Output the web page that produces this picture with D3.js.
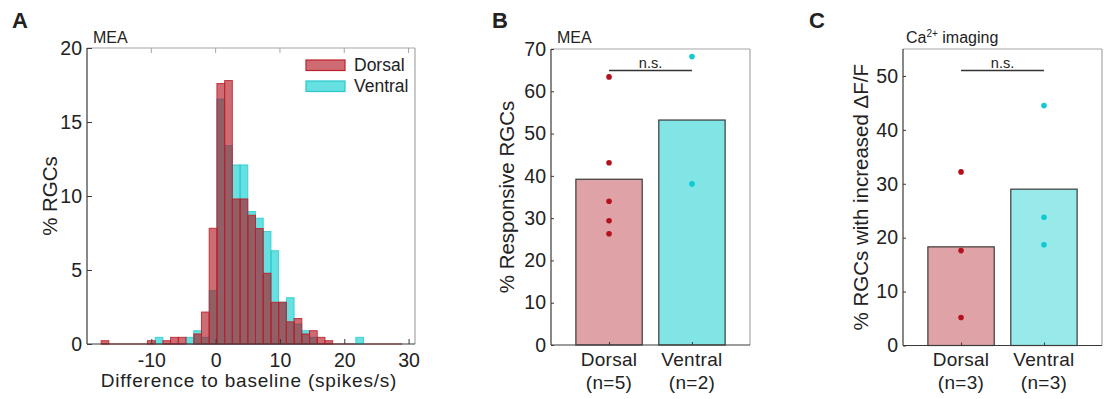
<!DOCTYPE html>
<html><head><meta charset="utf-8">
<script src="https://cdn.jsdelivr.net/npm/d3@7"></script>
<style>
body{margin:0;background:#fff;}
text{font-family:"Liberation Sans",Arial,Helvetica,sans-serif;fill:#222;}
</style></head><body>
<svg id="c" width="1106" height="399"></svg>
<script>
// ---------- DATA ----------
// Panel A histogram (bin width 1.2 spikes/s), left bin edges and % of RGCs
const binWidth = 1.2;
const dorsalBinLeft = [-17.8,-10.6,-8.2,-7.0,-5.8,-3.4,-2.2,-1.0,0.2,1.4,2.6,3.8,5.0,6.2,7.4,8.6,9.8,11.0,12.2,13.4,14.6,15.8,17.0];
const dorsalPct     = [0.225,0.225,0.225,0.45,0.45,0.68,2.16,7.82,17.6,17.8,9.8,9.8,8.7,7.8,4.78,2.82,2.82,1.5,1.72,0.68,0.9,0.45,0.225];
const ventralBinLeft = [-9.4,-4.6,-3.4,-2.2,-1.0,0.2,1.4,2.6,3.8,5.0,6.2,7.4,8.6,9.8,11.0,12.2,13.4,14.6,21.8];
const ventralPct     = [0.45,0.45,0.9,0.45,3.6,16.55,13.4,12.1,12.1,8.95,8.5,7.6,6.3,2.82,3.13,1.35,0.9,0.45,0.45];
const dorsalRange = [-17.8, 29.0];
const ventralRange = [-9.4, 23.0];
const histXTicks = [-10,0,10,20,30];
const histYTicks = [0,5,10,15,20];
const legendLabels = ["Dorsal","Ventral"];

// Panel B (MEA)
const groups = ["Dorsal","Ventral"];
const meaN = ["(n=5)","(n=2)"];
const meaMeans = [39.2, 53.2];
const meaDorsalPts = [63.4, 43.1, 34.0, 29.4, 26.3];
const meaVentralPts = [68.2, 38.1];
const meaYTicks = [0,10,20,30,40,50,60,70];
const meaSig = {y: 64.9, label: "n.s."};

// Panel C (Ca2+ imaging)
const caN = ["(n=3)","(n=3)"];
const caMeans = [18.3, 29.0];
const caDorsalPts = [32.2, 17.6, 5.2];
const caVentralPts = [44.5, 23.8, 18.7];
const caYTicks = [0,10,20,30,40,50];
const caSig = {y: 51.0, label: "n.s."};

// ---------- STYLE ----------
const red = "rgb(175,8,22)", cyan = "rgb(0,203,203)";
const axisCol = "#3a3a3a", boxCol = "#a6a6a6";
const tickFont = "19.5px", labFont = "20.5px";
const svg = d3.select("#c");

function frame(g, x0, x1, y0, y1){
  g.append("line").attr("x1",x0).attr("x2",x1).attr("y1",y0).attr("y2",y0).attr("stroke",boxCol).attr("stroke-width",1.2);
  g.append("line").attr("x1",x1).attr("x2",x1).attr("y1",y0).attr("y2",y1).attr("stroke",boxCol).attr("stroke-width",1.2);
}

// ---------- PANEL A ----------
(function(){
  const L=87,R=415,T=48,B=344;
  const x = d3.scaleLinear().domain([-20,31]).range([L,R]);
  const y = d3.scaleLinear().domain([0,20]).range([B,T]);
  const g = svg.append("g");
  frame(g,L,R,T,B);
  g.append("line").attr("x1",x(ventralRange[0])).attr("x2",x(ventralRange[1])).attr("y1",y(0)).attr("y2",y(0)).attr("stroke",cyan).attr("stroke-opacity",0.6).attr("stroke-width",1.5);
  g.append("line").attr("x1",x(dorsalRange[0])).attr("x2",x(dorsalRange[1])).attr("y1",y(0)).attr("y2",y(0)).attr("stroke","#d0606a").attr("stroke-width",1.5);
  const vd = ventralBinLeft.map((b,i)=>({b, v: ventralPct[i]}));
  const dd = dorsalBinLeft.map((b,i)=>({b, v: dorsalPct[i]}));
  g.selectAll(".vb").data(vd).enter().append("rect")
    .attr("x",d=>x(d.b)).attr("width",d=>x(d.b+binWidth)-x(d.b))
    .attr("y",d=>y(d.v)).attr("height",d=>y(0)-y(d.v))
    .attr("fill",cyan).attr("fill-opacity",0.6)
    .attr("stroke","rgb(40,200,205)").attr("stroke-opacity",0.8).attr("stroke-width",1);
  g.selectAll(".db").data(dd).enter().append("rect")
    .attr("x",d=>x(d.b)).attr("width",d=>x(d.b+binWidth)-x(d.b))
    .attr("y",d=>y(d.v)).attr("height",d=>y(0)-y(d.v))
    .attr("fill",red).attr("fill-opacity",0.6)
    .attr("stroke","rgb(190,30,40)").attr("stroke-opacity",0.85).attr("stroke-width",1);
  const ax = g.append("g").attr("transform",`translate(0,${B})`)
    .call(d3.axisBottom(x).tickValues(histXTicks).tickSizeInner(-5).tickSizeOuter(0).tickPadding(9).tickFormat(d=>String(d)));
  const ay = g.append("g").attr("transform",`translate(${L},0)`)
    .call(d3.axisLeft(y).tickValues(histYTicks).tickSizeInner(-5).tickSizeOuter(0).tickPadding(5));
  [ax,ay].forEach(a=>{a.select(".domain").attr("stroke",axisCol).attr("stroke-width",1.2);
    a.selectAll(".tick line").attr("stroke",axisCol);
    a.selectAll("text").style("font-size",tickFont).attr("fill","#222");});
  ax.select(".domain").attr("d",`M${L},0H${R}`);
  ay.select(".domain").attr("d",`M0,${B}V${T}`);
  g.selectAll(".tt").data(histXTicks).enter().append("line").attr("x1",d=>x(d)).attr("x2",d=>x(d)).attr("y1",T).attr("y2",T+5).attr("stroke",boxCol);
  g.append("text").attr("x",249).attr("y",387).attr("text-anchor","middle").style("font-size","19px").style("letter-spacing","0.8px").text("Difference to baseline (spikes/s)");
  g.append("text").attr("transform",`translate(57,${(T+B)/2}) rotate(-90)`).attr("text-anchor","middle").style("font-size",labFont).text("% RGCs");
  g.append("text").attr("x",93).attr("y",43).style("font-size","16px").text("MEA");
  g.append("text").attr("x",12).attr("y",28).style("font-size","22px").style("font-weight","bold").text("A");
  const lg = g.append("g");
  const lcols=[red,cyan], lstroke=["rgb(190,30,40)","rgb(40,200,205)"];
  legendLabels.forEach((t,i)=>{
    lg.append("rect").attr("x",306).attr("y",60+i*21).attr("width",39).attr("height",10.5)
      .attr("fill",lcols[i]).attr("fill-opacity",0.6).attr("stroke",lstroke[i]).attr("stroke-width",1.2);
    lg.append("text").attr("x",354).attr("y",71+i*21).style("font-size","17.5px").text(t);
  });
})();

// ---------- BAR PANELS ----------
function barPanel(o){
  const {L,R,T,B,ymax,means,pts,nLabels,yTicks,sig,title,ylab,letter,letterX,ventralFill,ylabX} = o;
  const x = d3.scaleLinear().domain([0.3,2.7]).range([L,R]);
  const y = d3.scaleLinear().domain([0,ymax]).range([B,T]);
  const g = svg.append("g");
  frame(g,L,R,T,B);
  const fills = ["#dfa3a7", ventralFill];
  g.selectAll(".bar").data(means).enter().append("rect")
    .attr("x",(d,i)=>x(i+1-0.4)).attr("width",x(1.4)-x(0.6))
    .attr("y",d=>y(d)).attr("height",d=>y(0)-y(d))
    .attr("fill",(d,i)=>fills[i]).attr("stroke","#3a3a3a").attr("stroke-width",1.2);
  const ptCols = ["#b3111c","#10c9d1"];
  pts.forEach((arr,i)=>{
    g.selectAll(".p"+i).data(arr).enter().append("circle")
      .attr("cx",x(i+1)).attr("cy",d=>y(d)).attr("r",2.8).attr("fill",ptCols[i]);
  });
  const ax = g.append("g").attr("transform",`translate(0,${B})`)
    .call(d3.axisBottom(x).tickValues([1,2]).tickSizeInner(-3).tickSizeOuter(0).tickFormat(""));
  const ay = g.append("g").attr("transform",`translate(${L},0)`)
    .call(d3.axisLeft(y).tickValues(yTicks).tickSizeInner(-3).tickSizeOuter(0).tickPadding(5));
  [ax,ay].forEach(a=>{a.select(".domain").attr("stroke",axisCol).attr("stroke-width",1.2);
    a.selectAll(".tick line").attr("stroke",axisCol);
    a.selectAll("text").style("font-size",tickFont).attr("fill","#222");});
  ax.select(".domain").attr("d",`M${L},0H${R}`);
  ay.select(".domain").attr("d",`M0,${B}V${T}`);
  groups.forEach((gname,i)=>{
    g.append("text").attr("x",x(i+1)).attr("y",366).attr("text-anchor","middle").style("font-size","19px").style("letter-spacing","0.3px").text(gname);
    g.append("text").attr("x",x(i+1)).attr("y",389).attr("text-anchor","middle").style("font-size","19px").style("letter-spacing","0.3px").text(nLabels[i]);
  });
  g.append("line").attr("x1",x(1)).attr("x2",x(2)).attr("y1",y(sig.y)).attr("y2",y(sig.y)).attr("stroke","#333").attr("stroke-width",1.5);
  g.append("text").attr("x",(x(1)+x(2))/2).attr("y",y(sig.y)-3).attr("text-anchor","middle").style("font-size","14.5px").text(sig.label);
  g.append("text").attr("transform",`translate(${ylabX},${(T+B)/2}) rotate(-90)`).attr("text-anchor","middle").style("font-size",labFont).text(ylab);
  title(g);
  g.append("text").attr("x",letterX).attr("y",28).style("font-size","22px").style("font-weight","bold").text(letter);
}

barPanel({L:551,R:750,T:49,B:345,ymax:70,means:meaMeans,pts:[meaDorsalPts,meaVentralPts],nLabels:meaN,yTicks:meaYTicks,sig:meaSig,
  ylab:"% Responsive RGCs",letter:"B",letterX:492,ventralFill:"#80e5e4",ylabX:514,
  title:g=>g.append("text").attr("x",557).attr("y",43).style("font-size","16px").text("MEA")});

barPanel({L:903,R:1102,T:49,B:345.5,ymax:55,means:caMeans,pts:[caDorsalPts,caVentralPts],nLabels:caN,yTicks:caYTicks,sig:caSig,
  ylab:"% RGCs with increased ΔF/F",letter:"C",letterX:809,ventralFill:"#97e9ea",ylabX:868,
  title:g=>{const t=g.append("text").attr("x",906).attr("y",43).style("font-size","16px");
    t.append("tspan").text("Ca");
    t.append("tspan").attr("dy",-6).style("font-size","10px").text("2+");
    t.append("tspan").attr("dy",6).text(" imaging");}});
</script>
</body></html>
